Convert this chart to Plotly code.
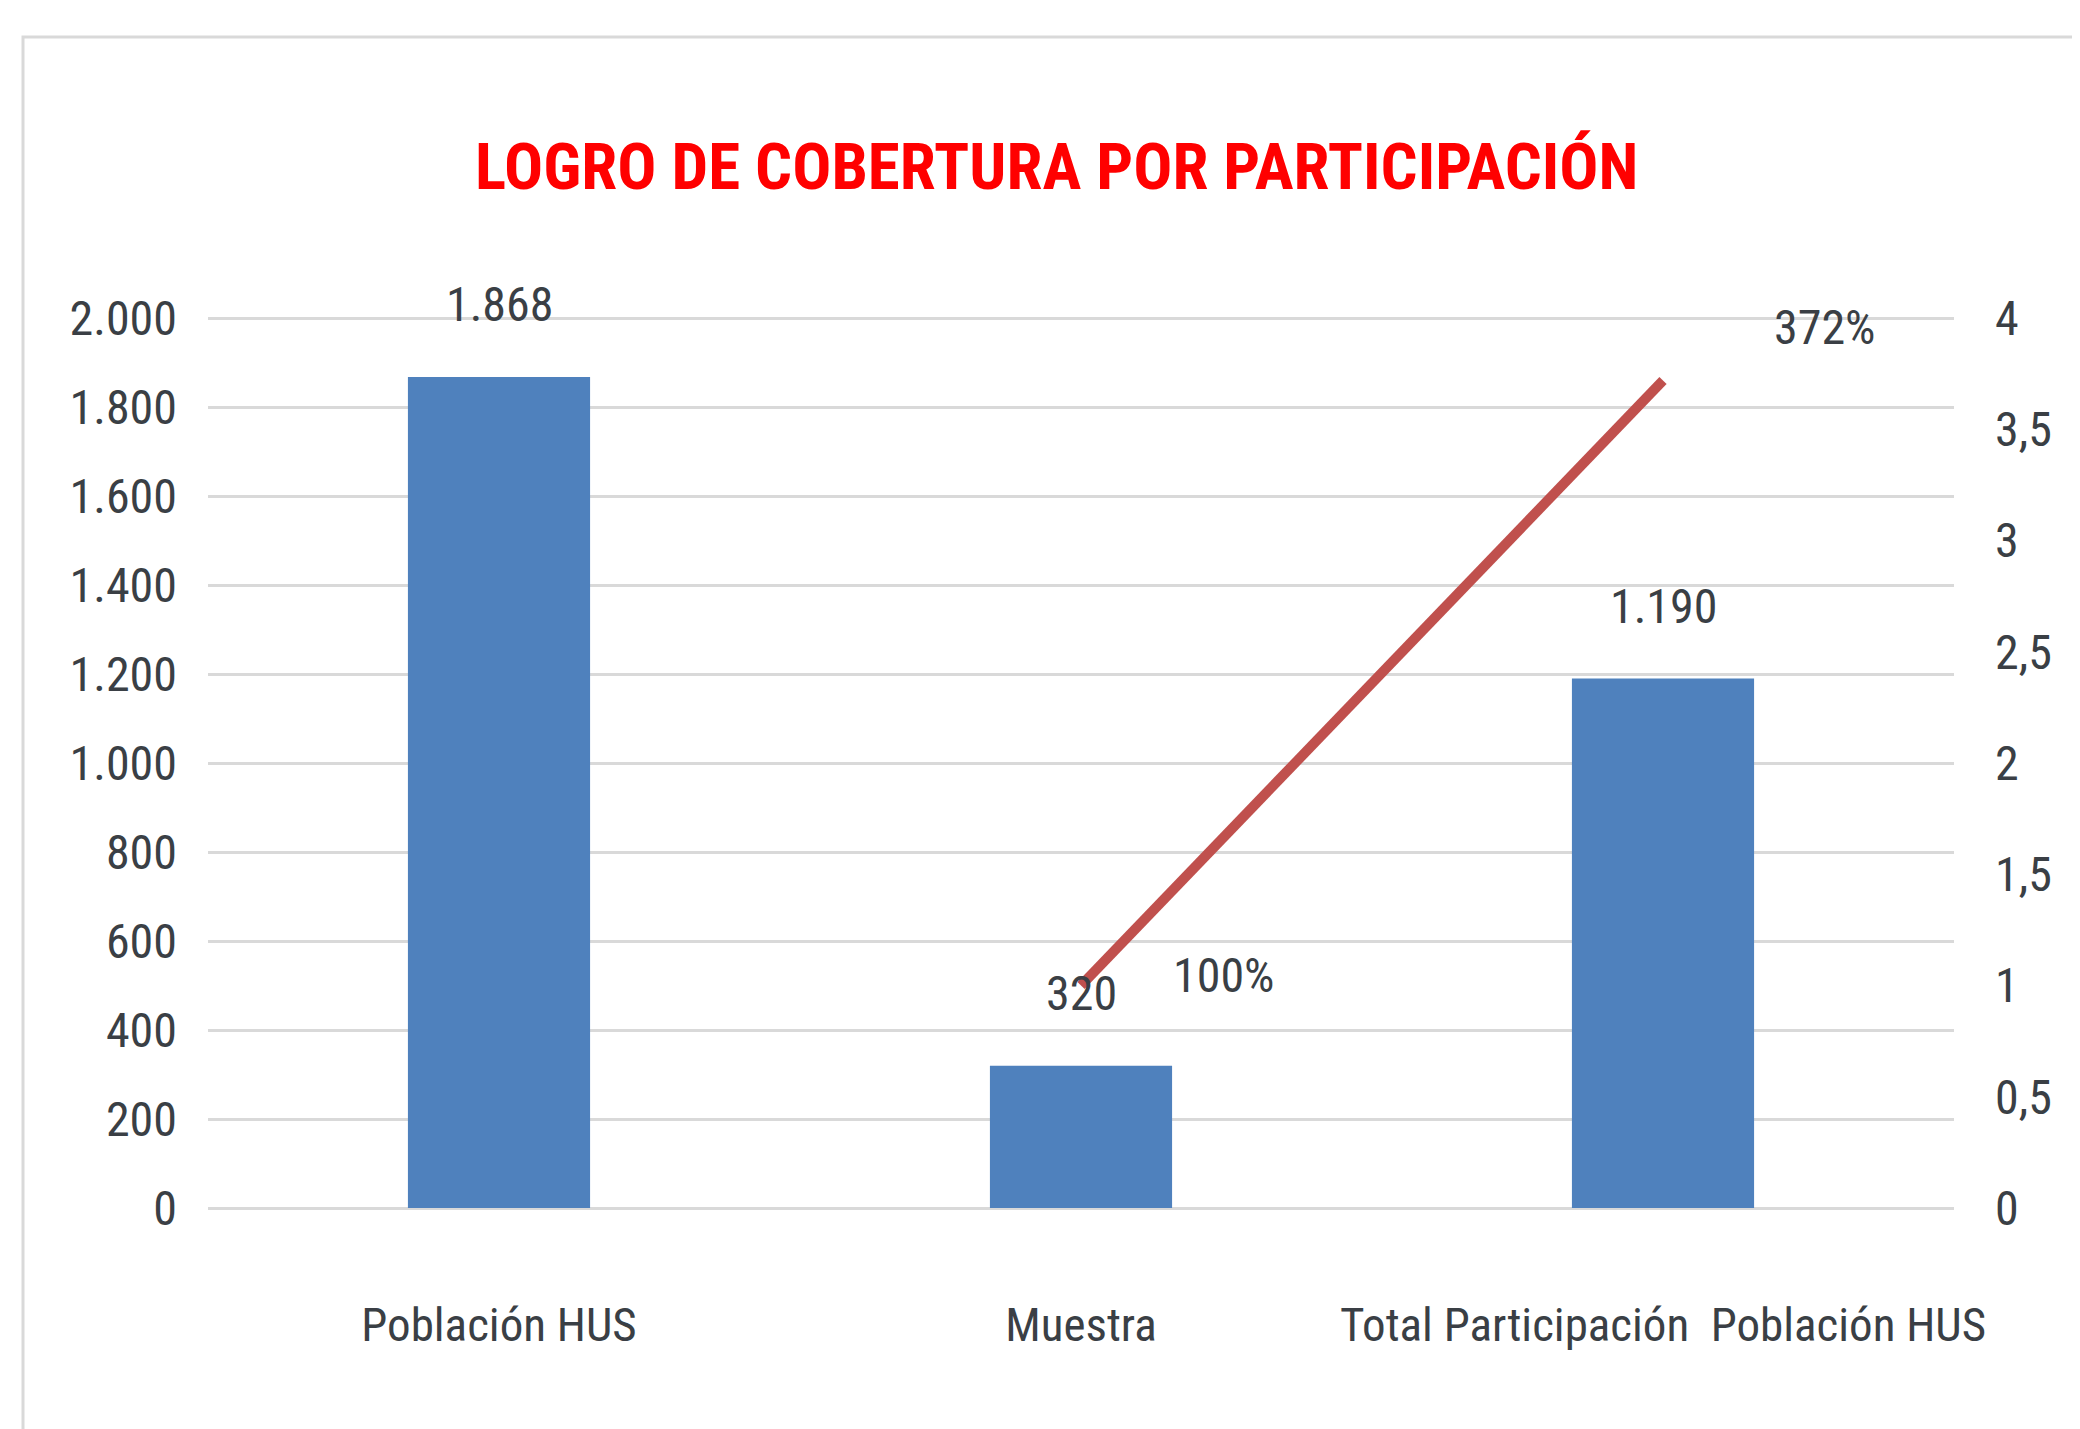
import plotly.graph_objects as go

categories = ["Población HUS", "Muestra", "Total Participación\u00a0 Población HUS"]
values = [1868, 320, 1190]
value_labels = ["1.868", "320", "1.190"]
ratio_categories = ["Muestra", "Total Participación\u00a0 Población HUS"]
ratio_values = [1.00, 3.72]
ratio_labels = ["100%", "372%"]
left_ticks = [0, 200, 400, 600, 800, 1000, 1200, 1400, 1600, 1800, 2000]
right_ticks = [0, 0.5, 1, 1.5, 2, 2.5, 3, 3.5, 4]

FONT = "Liberation Sans Narrow, Roboto Condensed, DejaVu Sans Condensed, Liberation Sans, sans-serif"
TXT = "#3a3f45"

fig = go.Figure()
fig.add_trace(go.Bar(x=categories, y=values, marker=dict(color="#4F81BD", line=dict(width=0)),
                     width=0.313, yaxis="y", showlegend=False, hoverinfo="skip"))
fig.add_trace(go.Scatter(x=ratio_categories, y=ratio_values, mode="lines", yaxis="y2",
                         line=dict(color="#C0504D", width=10), showlegend=False, hoverinfo="skip"))

annotations = []
for c, v, t in zip(categories, values, value_labels):
    annotations.append(dict(x=c, y=v, xref="x", yref="y", text=t, showarrow=False,
                            yanchor="middle", yshift=72, font=dict(family=FONT, size=48, color=TXT)))
shifts = [(142, 10), (161, 53)]
for c, v, t, (dx, dy) in zip(ratio_categories, ratio_values, ratio_labels, shifts):
    annotations.append(dict(x=c, y=v, xref="x", yref="y2", text=t, showarrow=False,
                            yanchor="middle", xshift=dx, yshift=dy, font=dict(family=FONT, size=48, color=TXT)))
annotations.append(dict(x=0.486, y=(1208 - 167) / 892, xref="paper", yref="paper",
                        text="<b>LOGRO DE COBERTURA POR PARTICIPACIÓN</b>", showarrow=False,
                        xanchor="center", yanchor="middle",
                        font=dict(family=FONT, size=65, color="#FF0000")))

fig.update_layout(
    width=2072, height=1421,
    margin=dict(l=200, r=126, t=308, b=221),
    paper_bgcolor="white", plot_bgcolor="white",
    separators=",.",
    bargap=0.687,
    xaxis=dict(showgrid=False, showline=False, zeroline=False, ticks="",
               tickfont=dict(family=FONT, size=47, color=TXT), ticklabelstandoff=85),
    yaxis=dict(range=[0, 2005], tickvals=left_ticks, separatethousands=True,
               showgrid=True, gridcolor="#D9D9D9", gridwidth=3,
               zeroline=True, zerolinecolor="#D9D9D9", zerolinewidth=3,
               showline=False, ticks="", tickfont=dict(family=FONT, size=48, color=TXT),
               ticklabelstandoff=30),
    yaxis2=dict(range=[0, 4.01], tickvals=right_ticks, overlaying="y", side="right",
                showgrid=False, zeroline=False, showline=False, ticks="",
                tickfont=dict(family=FONT, size=48, color=TXT), ticklabelstandoff=40),
    annotations=annotations,
    shapes=[dict(type="rect", xref="paper", yref="paper",
                 x0=(23 - 208) / 1746, x1=(2095 - 208) / 1746,
                 y0=(1208 - 1445) / 892, y1=(1208 - 37) / 892,
                 line=dict(color="#D9D9D9", width=3), layer="below")],
)

fig.write_html("out.html")
